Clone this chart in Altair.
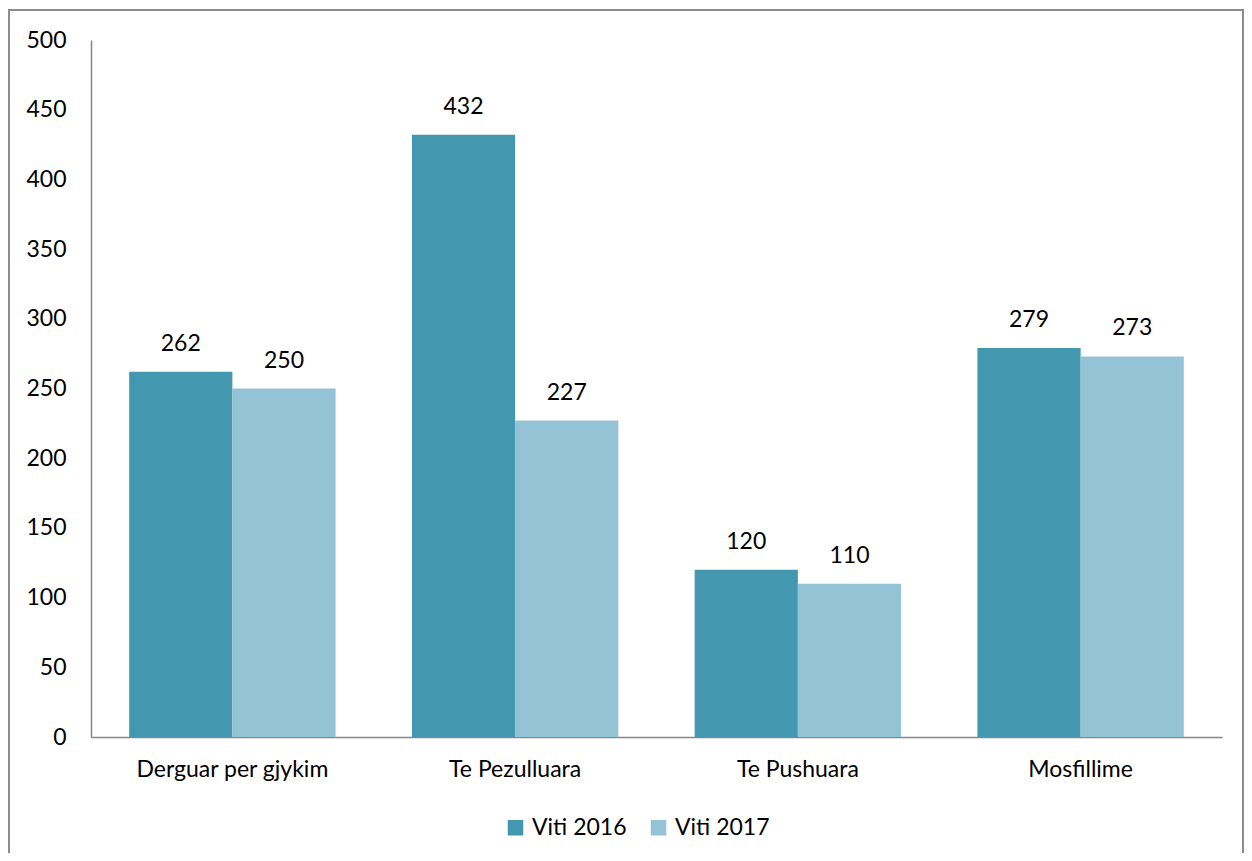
import altair as alt
import pandas as pd

categories = ["Derguar per gjykim", "Te Pezulluara", "Te Pushuara", "Mosfillime"]
series = ["Viti 2016", "Viti 2017"]
values_2016 = [262, 432, 120, 279]
values_2017 = [250, 227, 110, 273]
colors = ["#4398b0", "#93c3d4"]

rows = []
for c, a, b in zip(categories, values_2016, values_2017):
    rows.append({"cat": c, "series": series[0], "value": a})
    rows.append({"cat": c, "series": series[1], "value": b})
df = pd.DataFrame(rows)

FONT = "Lato"
FS = 23

x_enc = alt.X("cat:N", sort=categories, title=None,
              scale=alt.Scale(paddingInner=0.27, paddingOuter=0.135),
              axis=alt.Axis(labelAngle=0, labelFontSize=FS, labelFont=FONT, labelColor="#000000",
                            labelPadding=21, labelLimit=400, ticks=False,
                            domainColor="#868686", domainWidth=1.5))
y_enc = alt.Y("value:Q", title=None,
              scale=alt.Scale(domain=[0, 500], nice=False),
              axis=alt.Axis(values=list(range(0, 501, 50)), labelFontSize=FS, labelFont=FONT,
                            labelColor="#000000", labelPadding=25, ticks=False, grid=False,
                            domainColor="#868686", domainWidth=1.5))

base = alt.Chart(df).encode(
    x=x_enc,
    xOffset=alt.XOffset("series:N", sort=series),
)

bars = base.mark_bar().encode(
    y=y_enc,
    color=alt.Color("series:N", sort=series,
                    scale=alt.Scale(domain=series, range=colors),
                    legend=alt.Legend(title=None, orient="none", direction="horizontal",
                                      legendX=413, legendY=776, symbolType="square",
                                      symbolSize=240, symbolStrokeWidth=0,
                                      labelFontSize=FS, labelFont=FONT, labelColor="#000000",
                                      columnPadding=20, labelOffset=5)),
)

labels = base.mark_text(baseline="bottom", dy=-16, fontSize=FS, font=FONT, color="#000000").encode(
    y=alt.Y("value:Q", scale=alt.Scale(domain=[0, 500], nice=False)),
    text=alt.Text("value:Q"),
)

border_df = pd.DataFrame({"k": [0]})
border = alt.Chart(border_df).mark_rect(fill=None, stroke="#8c8c8c", strokeWidth=2, clip=False).encode(
    x=alt.value(-82), x2=alt.value(1152), y=alt.value(-30), y2=alt.value(900)
)

chart = alt.layer(border, bars, labels).properties(
    width=1131, height=697,
    padding={"left": 83, "top": 32, "right": 22, "bottom": 116},
    autosize=alt.AutoSizeParams(type="none"),
    background="white",
).configure_view(strokeWidth=0, stroke="transparent")

chart.save("out.html", embed_options={"renderer": "svg", "actions": False})
